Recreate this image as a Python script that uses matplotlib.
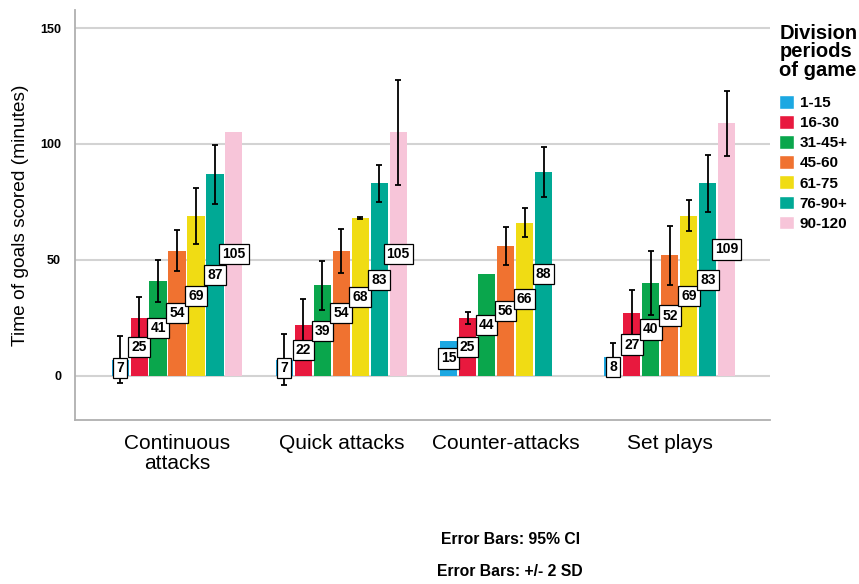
import numpy as np
import matplotlib
matplotlib.use("Agg")
import matplotlib.pyplot as plt
from matplotlib.patches import Patch
from matplotlib import rcParams

rcParams['font.family'] = ['Liberation Sans', 'DejaVu Sans']

# Data
categories = ["Continuous\nattacks", "Quick attacks", "Counter-attacks", "Set plays"]
periods = ["1-15", "16-30", "31-45+", "45-60", "61-75", "76-90+", "90-120"]
colors = ["#1CA8E2", "#E8193E", "#0AA64C", "#F07230", "#F0DC14", "#00A995", "#F7C5D9"]

# mean time per period (rows) for each category (columns); nan = no goals
means = [
    [7, 7, 15, 8],
    [25, 22, 25, 27],
    [41, 39, 44, 40],
    [54, 54, 56, 52],
    [69, 68, 66, 69],
    [87, 83, 88, 83],
    [105, 105, np.nan, 109],
]
# half length of the error bars; nan = no bar drawn
errors = [
    [10, 11, np.nan, 6],
    [9, 11, 2.7, 10],
    [9, 10.7, np.nan, 13.7],
    [9, 9.5, 8.1, 12.7],
    [12, 0.4, 6.2, 6.7],
    [12.7, 8, 10.8, 12.4],
    [np.nan, 22.5, np.nan, 14],
]

fig = plt.figure(figsize=(8.59, 5.84), dpi=100)
ax = fig.add_axes([0.0873, 0.281, 0.809, 0.702])

x = np.arange(len(categories))
pitch = 0.1155
width = 0.104

for i, (p, c) in enumerate(zip(periods, colors)):
    xs = x + (i - 3) * pitch
    vals = np.array(means[i], dtype=float)
    errs = np.array(errors[i], dtype=float)
    ax.bar(xs, vals, width=width, color=c, zorder=2)
    ok = ~np.isnan(errs) & ~np.isnan(vals)
    ax.errorbar(xs[ok], vals[ok], yerr=errs[ok], fmt="none", ecolor="black",
                elinewidth=1.3, capsize=2.2, capthick=1.3, zorder=3)
    for xi, v in zip(xs, vals):
        if np.isnan(v):
            continue
        ax.text(xi, v / 2, f"{v:.0f}", ha="center", va="center", fontsize=10,
                fontweight="bold", zorder=4,
                bbox=dict(boxstyle="square,pad=0.22", fc="white", ec="black", lw=0.9))

ax.set_xlim(-0.621, 3.609)
ax.set_ylim(-19, 157.8)
ax.set_yticks([0, 50, 100, 150])
ax.set_yticklabels(["0", "50", "100", "150"], fontweight="bold", fontsize=9)
ax.set_xticks(x)
ax.set_xticklabels(categories, fontsize=15, linespacing=1.05)
ax.tick_params(axis="both", length=0)
ax.tick_params(axis="y", pad=10)
ax.tick_params(axis="x", pad=10)
ax.yaxis.grid(True, color="#D3D3D3", lw=1.5, zorder=0)
ax.set_axisbelow(True)
for s in ["top", "right"]:
    ax.spines[s].set_visible(False)
for s in ["left", "bottom"]:
    ax.spines[s].set_color("#B0B0B0")
    ax.spines[s].set_linewidth(1.3)
ax.set_ylabel("Time of goals scored (minutes)", fontsize=13.8, labelpad=8)

handles = [Patch(facecolor=c, edgecolor="white") for c in colors]
leg = fig.legend(handles, periods, loc="upper left", bbox_to_anchor=(0.9, 0.969),
                 frameon=False, title="Division\nperiods\nof game",
                 prop=dict(weight="bold", size=11),
                 handlelength=1.0, handleheight=1.0, handletextpad=0.35,
                 labelspacing=0.33, borderaxespad=0)
leg.get_title().set_fontsize(14.5)
leg.get_title().set_fontweight("bold")
leg.get_title().set_linespacing(0.95)
leg._legend_box.align = "left"
leg._legend_box.sep = 11

fig.text(0.594, 0.077, "Error Bars: 95% CI", ha="center", va="center",
         fontsize=11.3, fontweight="bold")
fig.text(0.594, 0.021, "Error Bars: +/- 2 SD", ha="center", va="center",
         fontsize=11.3, fontweight="bold")

fig.savefig("out.png", dpi=100)
